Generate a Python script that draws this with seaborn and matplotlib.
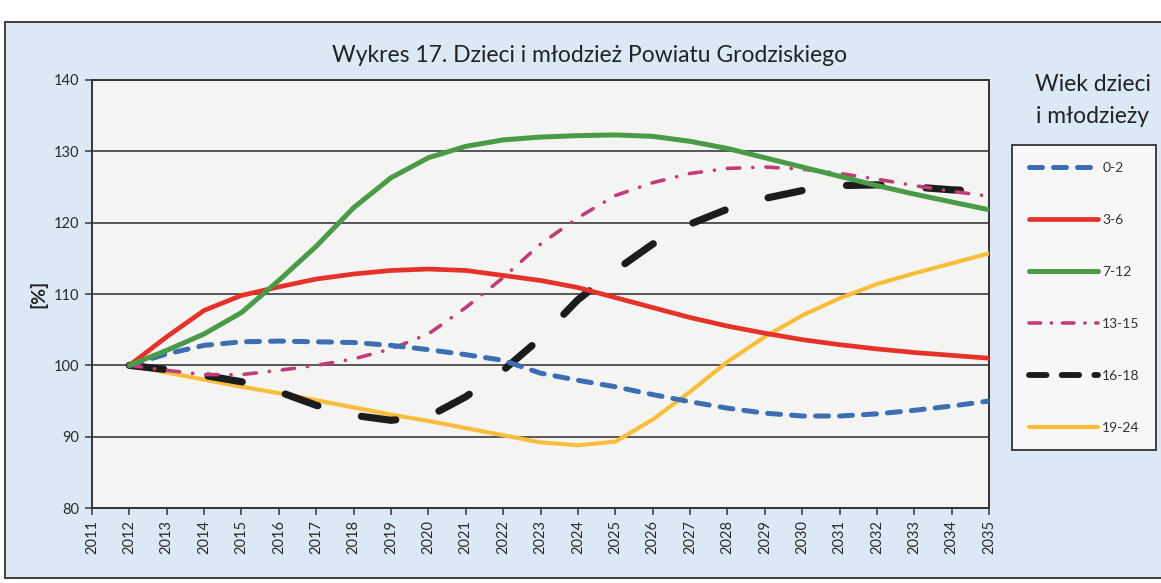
import pandas as pd
import seaborn as sns
import matplotlib.pyplot as plt
from matplotlib.patches import Rectangle

# dane (2012 = 100%)
lata = list(range(2012, 2036))
grupy = ['0-2', '3-6', '7-12', '13-15', '16-18', '19-24']

wiek_0_2 = [100, 101.6, 102.8, 103.3, 103.4, 103.3, 103.2, 102.8, 102.2, 101.5, 100.7, 98.9,
            97.9, 97.0, 95.9, 94.9, 94.0, 93.3, 92.9, 92.9, 93.2, 93.7, 94.3, 95.0]
wiek_3_6 = [100, 104.0, 107.7, 109.8, 111.0, 112.1, 112.8, 113.3, 113.5, 113.3, 112.6, 111.9,
            110.9, 109.5, 108.1, 106.7, 105.5, 104.5, 103.6, 102.9, 102.3, 101.8, 101.4, 101.0]
wiek_7_12 = [100, 102.1, 104.4, 107.4, 111.9, 116.7, 122.1, 126.3, 129.1, 130.7, 131.6, 132.0,
             132.2, 132.3, 132.1, 131.4, 130.4, 129.1, 127.8, 126.5, 125.2, 124.0, 122.9, 121.8]
wiek_13_15 = [100, 99.3, 98.7, 98.7, 99.3, 100.0, 100.9, 102.3, 104.4, 108.1, 112.3, 117.0,
              120.7, 123.8, 125.6, 126.9, 127.6, 127.8, 127.5, 126.9, 126.1, 125.2, 124.4, 123.7]
wiek_16_18 = [100, 99.4, 98.6, 97.7, 96.3, 94.4, 93.0, 92.3, 92.8, 95.6, 99.3, 103.8,
              109.2, 113.3, 117.0, 119.8, 121.9, 123.4, 124.5, 125.2, 125.3, 125.0, 124.6, 124.4]
wiek_19_24 = [100, 99.0, 98.0, 97.0, 96.1, 95.1, 94.1, 93.1, 92.2, 91.2, 90.2, 89.2,
              88.8, 89.3, 92.4, 96.3, 100.5, 104.0, 107.0, 109.4, 111.4, 112.9, 114.3, 115.7]

kolory = {'0-2': '#3d6db3', '3-6': '#e5322b', '7-12': '#4b9a47',
          '13-15': '#c23d78', '16-18': '#1c1c1c', '19-24': '#f9bd3c'}
grubosci = {'0-2': 3.6, '3-6': 3.4, '7-12': 3.6, '13-15': 2.6, '16-18': 5.2, '19-24': 3.0}
kreski = {'0-2': (2.6, 2.2), '3-6': '', '7-12': '', '13-15': (3.4, 3.6, 0.05, 3.6),
          '16-18': (4.8, 6.2), '19-24': ''}

df = pd.DataFrame({'rok': lata * 6,
                   'grupa': sum([[g] * len(lata) for g in grupy], []),
                   'wartosc': wiek_0_2 + wiek_3_6 + wiek_7_12 + wiek_13_15 + wiek_16_18 + wiek_19_24})

sns.set_theme(style='white')
plt.rcParams['font.family'] = ['Lato', 'DejaVu Sans']

fig = plt.figure(figsize=(11.61, 5.83), dpi=100, facecolor='white')
# niebieskie tlo z ramka
fig.patches.append(Rectangle((0.0045, 0.009), 1.2, 0.953, transform=fig.transFigure,
                             facecolor='#dbe9f6', edgecolor='#333333', linewidth=1.3, zorder=-10))
ax = fig.add_axes([0.0792, 0.1286, 0.7728, 0.7342])
ax.set_facecolor('#f4f4f2')

# rysowanie od tylu
for g in ['19-24', '16-18', '13-15', '0-2', '3-6', '7-12']:
    sub = df[df['grupa'] == g]
    sns.lineplot(data=sub, x='rok', y='wartosc', ax=ax, color=kolory[g],
                 linewidth=grubosci[g], label=g, zorder=3)
    ln = ax.lines[-1]
    if kreski[g]:
        ln.set_dashes(kreski[g])
    ln.set_dash_capstyle('round')
    ln.set_solid_capstyle('round')
    ln.set_solid_joinstyle('round')

ax.set_xlim(2011, 2035)
ax.set_ylim(80, 140)
ax.set_xticks(range(2011, 2036))
ax.set_xticklabels([str(r) for r in range(2011, 2036)], rotation=90)
ax.set_yticks(range(80, 141, 10))
ax.yaxis.grid(True, color='#4a4a4a', linewidth=1.3)
ax.set_axisbelow(True)
ax.tick_params(axis='both', direction='out', length=5, width=1.2, color='#444444',
               labelsize=10.5, labelcolor='#2a2a2a', bottom=True, left=True)
ax.tick_params(axis='y', pad=4)
for s in ax.spines.values():
    s.set_color('#333333')
    s.set_linewidth(1.4)
ax.set_xlabel('')
ax.set_ylabel('[%]', fontsize=14, fontweight='bold', color='#222222', labelpad=5)

fig.text(0.508, 0.905, 'Wykres 17. Dzieci i młodzież Powiatu Grodziskiego',
         ha='center', va='center', fontsize=16.5, color='#222222')
fig.text(0.941, 0.828, 'Wiek dzieci\ni młodzieży', ha='center', va='center',
         fontsize=16.5, color='#222222', linespacing=1.65)

# legenda w kolejnosci grup
uchwyty, etykiety = ax.get_legend_handles_labels()
mapa = dict(zip(etykiety, uchwyty))
leg = fig.legend([mapa[g] for g in grupy], grupy, loc='upper left',
                 bbox_to_anchor=(0.8717, 0.7513), bbox_transform=fig.transFigure,
                 frameon=True, fancybox=False, edgecolor='#333333', facecolor='#f7f7f7',
                 framealpha=1, fontsize=10, handlelength=5.0, handletextpad=0.3,
                 labelspacing=2.88, borderpad=1.2, borderaxespad=0)
leg.get_frame().set_linewidth(1.3)
for t in leg.get_texts():
    t.set_color('#333333')
# krotsze kreski w legendzie dla 16-18 i 13-15
leg.legend_handles[4].set_dashes((3.0, 2.6))
leg.legend_handles[4].set_linewidth(4.2)
leg.legend_handles[3].set_dashes((3.2, 3.0, 0.05, 3.0))
if ax.get_legend():
    ax.get_legend().remove()

fig.savefig('out.png', dpi=100, facecolor=fig.get_facecolor())
